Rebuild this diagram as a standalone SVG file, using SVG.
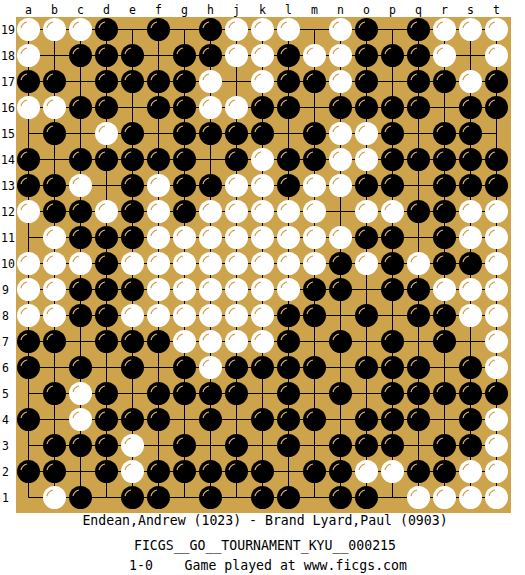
<svg xmlns="http://www.w3.org/2000/svg" width="525" height="575" viewBox="0 0 525 575">
<style>
.lbl{font-family:"DejaVu Sans Mono","Liberation Mono",monospace;font-size:11.5px;fill:#000}
.cap{font-family:"DejaVu Sans Mono","Liberation Mono",monospace;font-size:13.2px;fill:#000;text-anchor:middle}
.grid{stroke:#000;stroke-width:1;fill:none}
</style>
<defs>
<g id="b"><circle r="11.5" fill="#000"/><path d="M-7.5,-1.5 A8,8 0 0 1 -1.5,-7.5" stroke="#D8B470" stroke-width="1.2" fill="none"/></g>
<g id="w"><circle r="11.5" fill="#fff"/><path d="M-7.5,-1.5 A8,8 0 0 1 -1.5,-7.5" stroke="#C9A050" stroke-width="1.2" fill="none"/></g>
</defs>
<rect width="525" height="575" fill="#fff"/>
<rect id="board" x="16" y="17" width="495" height="496" fill="#CDA44B"/>
<g id="grid" class="grid">
<path d="M28.5 29.5V497.5M54.5 29.5V497.5M80.5 29.5V497.5M106.5 29.5V497.5M132.5 29.5V497.5M158.5 29.5V497.5M184.5 29.5V497.5M210.5 29.5V497.5M236.5 29.5V497.5M262.5 29.5V497.5M288.5 29.5V497.5M314.5 29.5V497.5M340.5 29.5V497.5M366.5 29.5V497.5M392.5 29.5V497.5M418.5 29.5V497.5M444.5 29.5V497.5M470.5 29.5V497.5M496.5 29.5V497.5"/>
<path d="M28.5 29.5H496.5M28.5 55.5H496.5M28.5 81.5H496.5M28.5 107.5H496.5M28.5 133.5H496.5M28.5 159.5H496.5M28.5 185.5H496.5M28.5 211.5H496.5M28.5 237.5H496.5M28.5 263.5H496.5M28.5 289.5H496.5M28.5 315.5H496.5M28.5 341.5H496.5M28.5 367.5H496.5M28.5 393.5H496.5M28.5 419.5H496.5M28.5 445.5H496.5M28.5 471.5H496.5M28.5 497.5H496.5"/>
</g>
<g id="col-labels" class="lbl" text-anchor="middle">
<text x="28.5" y="14">a</text><text x="54.5" y="14">b</text><text x="80.5" y="14">c</text><text x="106.5" y="14">d</text><text x="132.5" y="14">e</text><text x="158.5" y="14">f</text><text x="184.5" y="14">g</text><text x="210.5" y="14">h</text><text x="236.5" y="14">j</text><text x="262.5" y="14">k</text><text x="288.5" y="14">l</text><text x="314.5" y="14">m</text><text x="340.5" y="14">n</text><text x="366.5" y="14">o</text><text x="392.5" y="14">p</text><text x="418.5" y="14">q</text><text x="444.5" y="14">r</text><text x="470.5" y="14">s</text><text x="496.5" y="14">t</text>
</g>
<g id="row-labels" class="lbl">
<text x="1" y="33.5">19</text><text x="1" y="59.5">18</text><text x="1" y="85.5">17</text><text x="1" y="111.5">16</text><text x="1" y="137.5">15</text><text x="1" y="163.5">14</text><text x="1" y="189.5">13</text><text x="1" y="215.5">12</text><text x="1" y="241.5">11</text><text x="1" y="267.5">10</text><text x="2" y="293.5">9</text><text x="2" y="319.5">8</text><text x="2" y="345.5">7</text><text x="2" y="371.5">6</text><text x="2" y="397.5">5</text><text x="2" y="423.5">4</text><text x="2" y="449.5">3</text><text x="2" y="475.5">2</text><text x="2" y="501.5">1</text>
</g>
<g id="stones">
<g id="row19" transform="translate(0,29.5)">
<use href="#w" x="28.5"/><use href="#w" x="54.5"/><use href="#w" x="80.5"/><use href="#b" x="106.5"/><use href="#b" x="158.5"/><use href="#b" x="210.5"/><use href="#w" x="236.5"/><use href="#w" x="262.5"/><use href="#w" x="288.5"/><use href="#w" x="340.5"/><use href="#b" x="366.5"/><use href="#b" x="418.5"/><use href="#w" x="444.5"/><use href="#w" x="470.5"/><use href="#w" x="496.5"/>
</g>
<g id="row18" transform="translate(0,55.5)">
<use href="#w" x="28.5"/><use href="#b" x="80.5"/><use href="#b" x="106.5"/><use href="#b" x="132.5"/><use href="#b" x="184.5"/><use href="#b" x="210.5"/><use href="#w" x="236.5"/><use href="#w" x="262.5"/><use href="#b" x="288.5"/><use href="#w" x="314.5"/><use href="#w" x="340.5"/><use href="#b" x="366.5"/><use href="#b" x="392.5"/><use href="#b" x="418.5"/><use href="#w" x="444.5"/><use href="#w" x="496.5"/>
</g>
<g id="row17" transform="translate(0,81.5)">
<use href="#b" x="28.5"/><use href="#b" x="54.5"/><use href="#b" x="106.5"/><use href="#b" x="132.5"/><use href="#b" x="158.5"/><use href="#b" x="184.5"/><use href="#w" x="210.5"/><use href="#w" x="262.5"/><use href="#b" x="288.5"/><use href="#b" x="314.5"/><use href="#w" x="340.5"/><use href="#b" x="366.5"/><use href="#b" x="418.5"/><use href="#b" x="444.5"/><use href="#w" x="470.5"/><use href="#b" x="496.5"/>
</g>
<g id="row16" transform="translate(0,107.5)">
<use href="#w" x="28.5"/><use href="#w" x="54.5"/><use href="#b" x="80.5"/><use href="#b" x="106.5"/><use href="#b" x="158.5"/><use href="#b" x="184.5"/><use href="#w" x="210.5"/><use href="#w" x="236.5"/><use href="#b" x="262.5"/><use href="#b" x="288.5"/><use href="#b" x="340.5"/><use href="#b" x="366.5"/><use href="#b" x="392.5"/><use href="#b" x="418.5"/><use href="#b" x="470.5"/><use href="#b" x="496.5"/>
</g>
<g id="row15" transform="translate(0,133.5)">
<use href="#b" x="54.5"/><use href="#w" x="106.5"/><use href="#b" x="132.5"/><use href="#b" x="184.5"/><use href="#b" x="210.5"/><use href="#b" x="236.5"/><use href="#b" x="262.5"/><use href="#b" x="314.5"/><use href="#w" x="340.5"/><use href="#w" x="366.5"/><use href="#b" x="392.5"/><use href="#b" x="444.5"/><use href="#b" x="470.5"/>
</g>
<g id="row14" transform="translate(0,159.5)">
<use href="#b" x="28.5"/><use href="#b" x="80.5"/><use href="#b" x="106.5"/><use href="#b" x="132.5"/><use href="#b" x="158.5"/><use href="#b" x="184.5"/><use href="#b" x="236.5"/><use href="#w" x="262.5"/><use href="#b" x="288.5"/><use href="#b" x="314.5"/><use href="#w" x="340.5"/><use href="#w" x="366.5"/><use href="#b" x="392.5"/><use href="#b" x="418.5"/><use href="#b" x="444.5"/><use href="#b" x="470.5"/><use href="#b" x="496.5"/>
</g>
<g id="row13" transform="translate(0,185.5)">
<use href="#b" x="28.5"/><use href="#b" x="54.5"/><use href="#w" x="80.5"/><use href="#b" x="132.5"/><use href="#w" x="158.5"/><use href="#b" x="184.5"/><use href="#b" x="210.5"/><use href="#w" x="236.5"/><use href="#w" x="262.5"/><use href="#b" x="288.5"/><use href="#w" x="314.5"/><use href="#w" x="340.5"/><use href="#b" x="366.5"/><use href="#b" x="392.5"/><use href="#b" x="444.5"/><use href="#b" x="470.5"/><use href="#b" x="496.5"/>
</g>
<g id="row12" transform="translate(0,211.5)">
<use href="#w" x="28.5"/><use href="#b" x="54.5"/><use href="#b" x="80.5"/><use href="#w" x="106.5"/><use href="#b" x="132.5"/><use href="#w" x="158.5"/><use href="#b" x="184.5"/><use href="#w" x="210.5"/><use href="#w" x="236.5"/><use href="#w" x="262.5"/><use href="#w" x="288.5"/><use href="#w" x="314.5"/><use href="#w" x="366.5"/><use href="#w" x="392.5"/><use href="#b" x="418.5"/><use href="#b" x="444.5"/><use href="#w" x="470.5"/><use href="#w" x="496.5"/>
</g>
<g id="row11" transform="translate(0,237.5)">
<use href="#w" x="54.5"/><use href="#b" x="80.5"/><use href="#b" x="106.5"/><use href="#b" x="132.5"/><use href="#w" x="158.5"/><use href="#w" x="184.5"/><use href="#w" x="210.5"/><use href="#w" x="236.5"/><use href="#w" x="262.5"/><use href="#w" x="288.5"/><use href="#w" x="314.5"/><use href="#w" x="340.5"/><use href="#b" x="366.5"/><use href="#b" x="392.5"/><use href="#b" x="444.5"/><use href="#w" x="470.5"/><use href="#w" x="496.5"/>
</g>
<g id="row10" transform="translate(0,263.5)">
<use href="#w" x="28.5"/><use href="#w" x="54.5"/><use href="#w" x="80.5"/><use href="#b" x="106.5"/><use href="#w" x="132.5"/><use href="#w" x="158.5"/><use href="#w" x="184.5"/><use href="#w" x="210.5"/><use href="#w" x="236.5"/><use href="#w" x="262.5"/><use href="#w" x="288.5"/><use href="#w" x="314.5"/><use href="#b" x="340.5"/><use href="#w" x="366.5"/><use href="#b" x="392.5"/><use href="#w" x="418.5"/><use href="#b" x="444.5"/><use href="#b" x="470.5"/><use href="#w" x="496.5"/>
</g>
<g id="row9" transform="translate(0,289.5)">
<use href="#w" x="28.5"/><use href="#w" x="54.5"/><use href="#b" x="80.5"/><use href="#b" x="106.5"/><use href="#b" x="132.5"/><use href="#w" x="158.5"/><use href="#w" x="184.5"/><use href="#w" x="210.5"/><use href="#w" x="236.5"/><use href="#w" x="262.5"/><use href="#w" x="288.5"/><use href="#b" x="314.5"/><use href="#b" x="340.5"/><use href="#b" x="392.5"/><use href="#b" x="418.5"/><use href="#w" x="444.5"/><use href="#w" x="470.5"/><use href="#w" x="496.5"/>
</g>
<g id="row8" transform="translate(0,315.5)">
<use href="#w" x="28.5"/><use href="#w" x="54.5"/><use href="#b" x="80.5"/><use href="#b" x="106.5"/><use href="#w" x="132.5"/><use href="#w" x="158.5"/><use href="#w" x="184.5"/><use href="#w" x="210.5"/><use href="#w" x="236.5"/><use href="#w" x="262.5"/><use href="#b" x="288.5"/><use href="#b" x="314.5"/><use href="#b" x="366.5"/><use href="#b" x="418.5"/><use href="#b" x="444.5"/><use href="#w" x="470.5"/><use href="#w" x="496.5"/>
</g>
<g id="row7" transform="translate(0,341.5)">
<use href="#b" x="28.5"/><use href="#b" x="54.5"/><use href="#b" x="106.5"/><use href="#b" x="132.5"/><use href="#b" x="158.5"/><use href="#w" x="184.5"/><use href="#w" x="210.5"/><use href="#w" x="236.5"/><use href="#w" x="262.5"/><use href="#b" x="288.5"/><use href="#b" x="340.5"/><use href="#b" x="392.5"/><use href="#b" x="444.5"/><use href="#w" x="496.5"/>
</g>
<g id="row6" transform="translate(0,367.5)">
<use href="#b" x="28.5"/><use href="#b" x="80.5"/><use href="#b" x="132.5"/><use href="#b" x="184.5"/><use href="#w" x="210.5"/><use href="#b" x="236.5"/><use href="#b" x="262.5"/><use href="#b" x="288.5"/><use href="#b" x="314.5"/><use href="#b" x="366.5"/><use href="#b" x="392.5"/><use href="#b" x="418.5"/><use href="#b" x="470.5"/><use href="#w" x="496.5"/>
</g>
<g id="row5" transform="translate(0,393.5)">
<use href="#b" x="54.5"/><use href="#w" x="80.5"/><use href="#b" x="106.5"/><use href="#b" x="158.5"/><use href="#b" x="184.5"/><use href="#b" x="210.5"/><use href="#b" x="236.5"/><use href="#b" x="288.5"/><use href="#b" x="340.5"/><use href="#b" x="392.5"/><use href="#b" x="418.5"/><use href="#b" x="444.5"/><use href="#b" x="470.5"/><use href="#b" x="496.5"/>
</g>
<g id="row4" transform="translate(0,419.5)">
<use href="#b" x="28.5"/><use href="#w" x="80.5"/><use href="#b" x="106.5"/><use href="#b" x="132.5"/><use href="#b" x="158.5"/><use href="#b" x="210.5"/><use href="#b" x="262.5"/><use href="#b" x="288.5"/><use href="#b" x="314.5"/><use href="#b" x="366.5"/><use href="#b" x="392.5"/><use href="#b" x="418.5"/><use href="#b" x="470.5"/><use href="#w" x="496.5"/>
</g>
<g id="row3" transform="translate(0,445.5)">
<use href="#b" x="54.5"/><use href="#b" x="80.5"/><use href="#b" x="106.5"/><use href="#w" x="132.5"/><use href="#b" x="184.5"/><use href="#b" x="236.5"/><use href="#b" x="288.5"/><use href="#b" x="340.5"/><use href="#b" x="366.5"/><use href="#b" x="392.5"/><use href="#b" x="444.5"/><use href="#b" x="470.5"/><use href="#w" x="496.5"/>
</g>
<g id="row2" transform="translate(0,471.5)">
<use href="#b" x="28.5"/><use href="#b" x="54.5"/><use href="#b" x="106.5"/><use href="#w" x="132.5"/><use href="#b" x="158.5"/><use href="#b" x="184.5"/><use href="#b" x="210.5"/><use href="#b" x="236.5"/><use href="#b" x="262.5"/><use href="#b" x="314.5"/><use href="#b" x="340.5"/><use href="#w" x="366.5"/><use href="#w" x="392.5"/><use href="#b" x="418.5"/><use href="#b" x="444.5"/><use href="#w" x="470.5"/><use href="#w" x="496.5"/>
</g>
<g id="row1" transform="translate(0,497.5)">
<use href="#w" x="54.5"/><use href="#b" x="80.5"/><use href="#b" x="132.5"/><use href="#b" x="158.5"/><use href="#b" x="210.5"/><use href="#b" x="262.5"/><use href="#b" x="288.5"/><use href="#b" x="340.5"/><use href="#b" x="366.5"/><use href="#w" x="418.5"/><use href="#w" x="444.5"/><use href="#w" x="470.5"/><use href="#w" x="496.5"/>
</g>
</g>
<g id="caption" class="cap">
<text x="265" y="525">Endean,Andrew (1023) - Brand Lyard,Paul (0903)</text>
<text x="265" y="550">FICGS__GO__TOURNAMENT_KYU__000215</text>
<text x="268" y="570" xml:space="preserve">1-0    Game played at www.ficgs.com</text>
</g>
</svg>
